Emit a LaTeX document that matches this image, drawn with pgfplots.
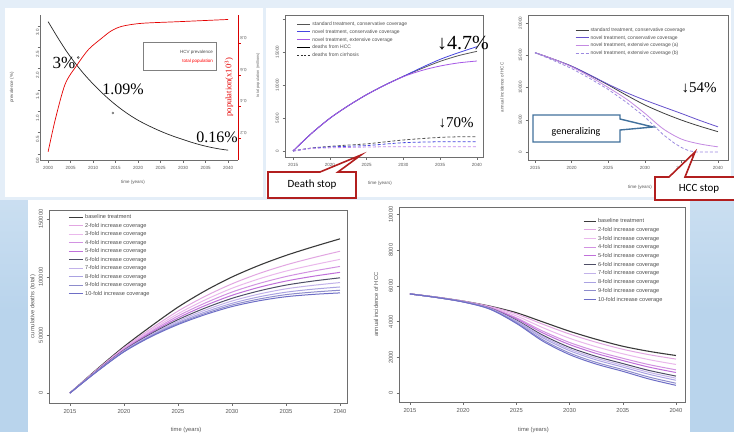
\documentclass[border=0pt]{standalone}
\usepackage{fontspec}
\setmainfont{Liberation Sans}
\newfontfamily\tnr{Liberation Serif}
\newfontfamily\calfont{Carlito}
\usepackage{pgfplots}
\usepackage{pgfplotstable}
\pgfplotsset{compat=1.18}
\definecolor{slidebg}{HTML}{E4EEF8}
\definecolor{stripbg}{HTML}{B9D4EC}
\definecolor{redbox}{HTML}{B21F1F}
\definecolor{bluebox}{HTML}{41719C}
\definecolor{rgray}{HTML}{6E6E6E}
\definecolor{txt}{HTML}{505050}
\definecolor{fA}{HTML}{3A3A3A}
\definecolor{fB}{HTML}{E2A6E2}
\definecolor{fC}{HTML}{EAB8EC}
\definecolor{fD}{HTML}{D292E2}
\definecolor{fE}{HTML}{C070DA}
\definecolor{fF}{HTML}{4E4E66}
\definecolor{fG}{HTML}{C2B2EA}
\definecolor{fH}{HTML}{AAA2E2}
\definecolor{fI}{HTML}{8E8CCC}
\definecolor{fJ}{HTML}{6E6EC6}
\definecolor{tStd}{HTML}{555555}
\definecolor{tCon}{HTML}{4646E0}
\definecolor{tExt}{HTML}{A658E6}
\definecolor{hStd}{HTML}{404040}
\definecolor{hCon}{HTML}{6652CC}
\definecolor{hExtA}{HTML}{C48AE2}
\definecolor{hExtB}{HTML}{9C8AE0}

\pgfplotstableread{
year b f2 f3 f4 f5 f6 f7 f8 f9 f10
2015 0 0 0 0 0 0 0 0 0 0
2017.5 20500 20000 19700 19500 19300 19100 18900 18700 18600 18500
2020 40000 39000 38300 37700 37200 36800 36400 36000 35700 35500
2022.5 57500 55400 54100 52900 51900 51000 50200 49500 49000 48500
2025 74000 70600 68300 66400 64700 63200 61900 60700 59800 59000
2027.5 88000 83300 80200 77500 75300 73200 71400 69800 68500 67500
2030 100000 94100 90300 87000 84200 81600 79300 77300 75800 74500
2032.5 110000 103000 98400 94400 91100 88000 85300 82900 81000 79500
2035 118600 110400 105100 100400 96500 93000 89800 86900 84800 83000
2037.5 126000 116600 110400 105100 100600 96500 92800 89500 87000 85000
2040 132900 122200 115200 109100 104000 99300 95200 91400 88600 86300
}\cumdeaths

\pgfplotstableread{
year b f2 f3 f4 f5 f6 f7 f8 f9 f10
2015 5550 5550 5550 5550 5550 5550 5550 5550 5550 5550
2017.5 5370 5368 5364 5360 5359 5356 5355 5353 5351 5350
2020 5150 5144 5135 5126 5121 5115 5112 5108 5103 5100
2022.5 4870 4850 4819 4788 4773 4753 4741 4729 4712 4700
2025 4500 4428 4320 4212 4158 4086 4044 4002 3942 3900
2027.5 3980 3850 3656 3462 3364 3235 3159 3084 2976 2900
2030 3460 3303 3067 2831 2713 2556 2464 2373 2242 2150
2032.5 3010 2843 2593 2343 2218 2051 1954 1856 1717 1620
2035 2620 2451 2198 1946 1819 1651 1552 1454 1313 1215
2037.5 2330 2144 1865 1586 1446 1260 1152 1043 888 780
2040 2100 1900 1599 1298 1148 948 831 714 547 430
}\incid

\pgfplotstableread{
year std con ext cstd ccon cext
2015 0 0 0 0 0 0
2017.5 2650 2650 2650 450 420 380
2020 4950 4950 4950 700 600 480
2022.5 6850 6850 6850 900 720 540
2025 8535 8535 8535 1080 820 600
2027.5 10000 10000 9980 1380 1050 640
2030 11312 11312 11262 1670 1260 650
2032.5 12500 12650 12200 1880 1350 650
2035 13585 13888 12878 2070 1400 650
2037.5 14450 14900 13350 2150 1410 650
2040 15100 15807 13636 2170 1410 650
}\topdeaths

\pgfplotstableread{
year std con exta
2015 15400 15400 15400
2017.5 14400 14400 14400
2020 13300 13300 13200
2022.5 11900 11950 11700
2025 10400 10500 10000
2027.5 8800 9200 8200
2030 7300 8050 6000
2032.5 6050 7000 3600
2035 4950 5970 2000
2037.5 4000 4900 1250
2040 3150 3900 800
}\topinc

\pgfplotsset{
  rplot/.style={
    scale only axis, anchor=south west,
    axis line style={rgray, line width=0.4pt},
    tick style={rgray, line width=0.4pt},
    tick align=outside, major tick length=2.5pt, tick pos=left,
    ticklabel style={text=rgray!80!black},
    /pgf/number format/assume math mode=true,
    /pgf/number format/fixed,
    /pgf/number format/1000 sep={},
    scaled ticks=false,
    yticklabel style={rotate=90, anchor=south},
    label style={text=rgray!80!black},
    legend cell align=left,
  },
  small/.style={tick label style={font=\fontsize{4.5}{5}\selectfont}, label style={font=\fontsize{4.5}{5}\selectfont}},
  big/.style={tick label style={font=\fontsize{5.8}{6}\selectfont}, label style={font=\fontsize{5.8}{6}\selectfont}},
  rleg/.style={legend image code/.code={\draw[##1] (0pt,0pt) -- (#1,0pt);}},
}

\begin{document}
\begin{tikzpicture}[x=1pt,y=1pt]
\useasboundingbox (0,0) rectangle (734,432);
\clip (0,0) rectangle (734,432);
% slide background
\fill[slidebg] (0,0) rectangle (734,432);
\shade[top color=stripbg!60!slidebg, bottom color=stripbg] (0,120) rectangle (28,232);
\fill[stripbg] (0,0) rectangle (28,120);
\shade[top color=stripbg!60!slidebg, bottom color=stripbg] (690,120) rectangle (734,232);
\fill[stripbg] (690,0) rectangle (734,120);
% white panels
\fill[white] (5,235) rectangle (263,424);
\fill[white] (266,235) rectangle (731,424);
\fill[white] (28,0) rectangle (690,232);

% ---------- Panel 1: prevalence ----------
\begin{axis}[rplot, small, at={(40pt,272pt)}, width=198pt, height=145pt,
  xmin=1998.2, xmax=2042.2, ymin=-0.14, ymax=3.255,
  axis x line*=bottom, axis y line*=left,
  xtick={2000,2005,...,2040}, ytick={0,0.5,...,3},
  yticklabel style={rotate=0, anchor=east, /pgf/number format/.cd, fixed, fixed zerofill, precision=1},
  xlabel={time (years)}, ylabel={prevalence (\%)},
  xlabel style={at={(axis description cs:0.47,-0.152)}, anchor=center},
  ylabel style={at={(axis description cs:-0.141,0.5)}, anchor=center},
]
\addplot[black!85, line width=0.7pt, smooth] coordinates {
(2000,3.1)(2002,2.75)(2004,2.42)(2006,2.13)(2008,1.87)(2010,1.64)(2012,1.43)
(2014,1.24)(2016,1.07)(2018,0.92)(2020,0.79)(2022,0.68)(2024,0.58)(2026,0.49)
(2028,0.41)(2030,0.34)(2032,0.27)(2034,0.21)(2036,0.16)(2038,0.12)(2040,0.09)};
\addplot[red!90!black, line width=0.7pt, smooth] coordinates {
(2000,0.05)(2001.6,0.81)(2003.8,1.64)(2006.4,2.08)(2009,2.45)(2011.9,2.71)(2014,2.88)
(2016.4,2.99)(2020.8,3.06)(2029.3,3.1)(2040,3.15)};
\addplot[only marks, mark=o, mark size=1pt, black!70] coordinates {(2006.7,2.26)(2014.4,0.96)};
\end{axis}
\begin{axis}[rplot, small, at={(40pt,272pt)}, width=198pt, height=145pt,
  xmin=1998.2, xmax=2042.2, ymin=0.063, ymax=0.979,
  axis x line=none, axis y line*=right, ytick pos=right,
  y axis line style={red!85!black, line width=0.5pt},
  ytick={0.2,0.4,0.6,0.8}, ytick style={red!85!black},
  yticklabel style={rotate=90, anchor=north}, yticklabel shift=3pt,
]
\end{axis}
\draw[gray, line width=0.5pt] (143,362) rectangle (216,390);
\node[anchor=east, font=\fontsize{4.5}{5}\selectfont, text=black!70, inner sep=0pt] at (213,379.3) {HCV prevalence};
\node[anchor=east, font=\fontsize{4.5}{5}\selectfont, text=red, inner sep=0pt] at (213,370.3) {total population};
\node[rotate=90, font=\tnr\fontsize{8.5}{9}\selectfont, text=red!90!black] at (229,345) {population(x10$^3$)};
\node[rotate=90, font=\fontsize{4}{4.5}\selectfont, text=rgray] at (258,357) {total population (millions)};
\node[font=\tnr\fontsize{17}{17}\selectfont] at (64,369) {3\%};
\node[font=\tnr\fontsize{16}{16}\selectfont] at (123,343) {1.09\%};
\node[font=\tnr\fontsize{16}{16}\selectfont] at (217,295) {0.16\%};

% ---------- Panel 2: cumulative deaths ----------
\begin{axis}[rplot, small, rleg=13pt, at={(285pt,275pt)}, width=198pt, height=142pt,
  xmin=2013.91, xmax=2040.82, ymin=-909, ymax=20606,
  xtick={2015,2020,...,2040}, ytick={0,5000,10000,15000,20000},
  yticklabels={0,5000,10000,15000,},
  xlabel={time (years)},
  xlabel style={at={(axis description cs:0.48,-0.183)}, anchor=center},
  legend style={at={(0.06,0.965)}, anchor=north west, draw=none, fill=none,
    font=\fontsize{5}{5}\selectfont, text=txt, row sep=0pt, inner sep=0pt,
    nodes={inner xsep=1.5pt, inner ysep=0pt, text height=5.3pt, text depth=2.5pt}},
]
\addplot[tStd, line width=0.8pt, smooth] table[x=year,y=std] {\topdeaths};
\addlegendentry{standard treatment, conservative coverage}
\addplot[tCon, line width=0.8pt, smooth] table[x=year,y=con] {\topdeaths};
\addlegendentry{novel treatment, conservative coverage}
\addplot[tExt, line width=0.8pt, smooth] table[x=year,y=ext] {\topdeaths};
\addlegendentry{novel treatment, extensive coverage}
\addlegendimage{black, line width=0.6pt}
\addlegendentry{deaths from HCC}
\addlegendimage{black!80, line width=0.6pt, dash pattern=on 2pt off 1.5pt}
\addlegendentry{deaths from cirrhosis}
\addplot[forget plot, tStd, line width=0.8pt, dash pattern=on 3pt off 2pt, smooth] table[x=year,y=cstd] {\topdeaths};
\addplot[forget plot, tCon, line width=0.8pt, dash pattern=on 3pt off 2pt, smooth] table[x=year,y=ccon] {\topdeaths};
\addplot[forget plot, tExt!70, line width=0.8pt, dash pattern=on 3pt off 2pt, smooth] table[x=year,y=cext] {\topdeaths};
\end{axis}
\node[font=\tnr\fontsize{20}{20}\selectfont] at (463,389) {↓4.7\%};
\node[font=\tnr\fontsize{15}{15}\selectfont] at (456,309) {↓70\%};

% ---------- Panel 3: annual incidence ----------
\begin{axis}[rplot, small, rleg=13pt, at={(528pt,272pt)}, width=200pt, height=145pt,
  xmin=2014.04, xmax=2041.37, ymin=-1240, ymax=21240,
  xtick={2015,2020,...,2040}, ytick={0,5000,...,20000},
  xlabel={time (years)}, ylabel={annual incidence of HCC},
  xlabel style={at={(axis description cs:0.56,-0.186)}, anchor=center},
  ylabel style={at={(axis description cs:-0.13,0.5)}, anchor=center},
  legend style={at={(0.235,0.924)}, anchor=north west, draw=none, fill=none,
    font=\fontsize{5}{5}\selectfont, text=txt, row sep=0pt, inner sep=0pt,
    nodes={inner xsep=1.5pt, inner ysep=0pt, text height=5.2pt, text depth=2.5pt}},
]
\addplot[hStd, line width=0.8pt, smooth] table[x=year,y=std] {\topinc};
\addlegendentry{standard treatment, conservative coverage}
\addplot[hCon, line width=0.8pt, smooth] table[x=year,y=con] {\topinc};
\addlegendentry{novel treatment, conservative coverage}
\addplot[hExtA, line width=0.8pt, smooth] table[x=year,y=exta] {\topinc};
\addlegendentry{novel treatment, extensive coverage (a)}
\addplot[hExtB, line width=0.8pt, dash pattern=on 3pt off 2pt] coordinates {
(2015,15400)(2017.5,14200)(2020,12950)(2022.5,11400)(2025,9700)(2027.5,7700)
(2030,5450)(2032.5,2700)(2034,1400)(2035,700)(2036,200)(2037,0)(2040,0)};
\addlegendentry{novel treatment, extensive coverage (b)}
\end{axis}
\node[font=\tnr\fontsize{15}{15}\selectfont] at (699,344) {↓54\%};

% ---------- Panel 4: cumulative deaths, bottom ----------
\begin{axis}[rplot, big, rleg=14pt, at={(49pt,29pt)}, width=298pt, height=193pt,
  xmin=2013.06, xmax=2040.65, ymin=-8620, ymax=157760,
  xtick={2015,2020,...,2040}, ytick={0,50000,100000,150000},
  xlabel={time (years)}, ylabel={cumulative deaths (total)},
  xlabel style={at={(axis description cs:0.46,-0.14)}, anchor=center},
  ylabel style={at={(axis description cs:-0.054,0.5)}, anchor=center},
  legend style={at={(0.064,0.985)}, anchor=north west, draw=none, fill=none,
    font=\fontsize{5.6}{6}\selectfont, text=txt, row sep=0pt, inner sep=0pt,
    nodes={inner xsep=1.8pt, inner ysep=0pt, text height=5.8pt, text depth=2.7pt}},
]
\addplot[fA, line width=1.1pt, smooth] table[x=year,y=b] {\cumdeaths};
\addlegendentry{baseline treatment}
\addplot[fB, line width=1pt, smooth] table[x=year,y=f2] {\cumdeaths};
\addlegendentry{2-fold increase coverage}
\addplot[fC, line width=1pt, smooth] table[x=year,y=f3] {\cumdeaths};
\addlegendentry{3-fold increase coverage}
\addplot[fD, line width=1pt, smooth] table[x=year,y=f4] {\cumdeaths};
\addlegendentry{4-fold increase coverage}
\addplot[fE, line width=1pt, smooth] table[x=year,y=f5] {\cumdeaths};
\addlegendentry{5-fold increase coverage}
\addplot[fF, line width=1pt, smooth] table[x=year,y=f6] {\cumdeaths};
\addlegendentry{6-fold increase coverage}
\addplot[fG, line width=1pt, smooth] table[x=year,y=f7] {\cumdeaths};
\addlegendentry{7-fold increase coverage}
\addplot[fH, line width=1pt, smooth] table[x=year,y=f8] {\cumdeaths};
\addlegendentry{8-fold increase coverage}
\addplot[fI, line width=1pt, smooth] table[x=year,y=f9] {\cumdeaths};
\addlegendentry{9-fold increase coverage}
\addplot[fJ, line width=1pt, smooth] table[x=year,y=f10] {\cumdeaths};
\addlegendentry{10-fold increase coverage}
\end{axis}

% ---------- Panel 5: annual incidence, bottom ----------
\begin{axis}[rplot, big, rleg=12pt, at={(399pt,30pt)}, width=286pt, height=195pt,
  xmin=2013.97, xmax=2040.85, ymin=-504, ymax=10420,
  xtick={2015,2020,...,2040}, ytick={0,2000,...,10000},
  xlabel={time (years)}, ylabel={annual incidence of HCC},
  xlabel style={at={(axis description cs:0.47,-0.144)}, anchor=center},
  ylabel style={at={(axis description cs:-0.08,0.5)}, anchor=center},
  legend style={at={(0.643,0.951)}, anchor=north west, draw=none, fill=none,
    font=\fontsize{5.6}{6}\selectfont, text=txt, row sep=0pt, inner sep=0pt,
    nodes={inner xsep=1.8pt, inner ysep=0pt, text height=6pt, text depth=2.7pt}},
]
\addplot[fA, line width=1.1pt, smooth] table[x=year,y=b] {\incid};
\addlegendentry{baseline treatment}
\addplot[fB, line width=1pt, smooth] table[x=year,y=f2] {\incid};
\addlegendentry{2-fold increase coverage}
\addplot[fC, line width=1pt, smooth] table[x=year,y=f3] {\incid};
\addlegendentry{3-fold increase coverage}
\addplot[fD, line width=1pt, smooth] table[x=year,y=f4] {\incid};
\addlegendentry{4-fold increase coverage}
\addplot[fE, line width=1pt, smooth] table[x=year,y=f5] {\incid};
\addlegendentry{5-fold increase coverage}
\addplot[fF, line width=1pt, smooth] table[x=year,y=f6] {\incid};
\addlegendentry{6-fold increase coverage}
\addplot[fG, line width=1pt, smooth] table[x=year,y=f7] {\incid};
\addlegendentry{7-fold increase coverage}
\addplot[fH, line width=1pt, smooth] table[x=year,y=f8] {\incid};
\addlegendentry{8-fold increase coverage}
\addplot[fI, line width=1pt, smooth] table[x=year,y=f9] {\incid};
\addlegendentry{9-fold increase coverage}
\addplot[fJ, line width=1pt, smooth] table[x=year,y=f10] {\incid};
\addlegendentry{10-fold increase coverage}
\end{axis}

% ---------- callouts ----------
\draw[redbox, line width=1.6pt, fill=white, line join=miter]
  (268,260) -- (320,260) -- (361,277) -- (338,260) -- (356,260) -- (356,234) -- (268,234) -- cycle;
\node[font=\calfont\fontsize{11}{11}\selectfont] at (312,247) {Death stop};
\draw[redbox, line width=1.6pt, fill=white, line join=miter]
  (655,255) -- (669,255) -- (695,280) -- (685,255) -- (745,255) -- (745,232) -- (655,232) -- cycle;
\node[font=\calfont\fontsize{11}{11}\selectfont] at (699,243) {HCC stop};
\draw[bluebox, line width=1.4pt, fill=white, line join=miter]
  (533,317) -- (620,317) -- (620,313) -- (653,305) -- (620,302) -- (620,290) -- (533,290) -- cycle;
\node[font=\calfont\fontsize{10}{10}\selectfont] at (576,300) {generalizing};
\end{tikzpicture}
\end{document}
